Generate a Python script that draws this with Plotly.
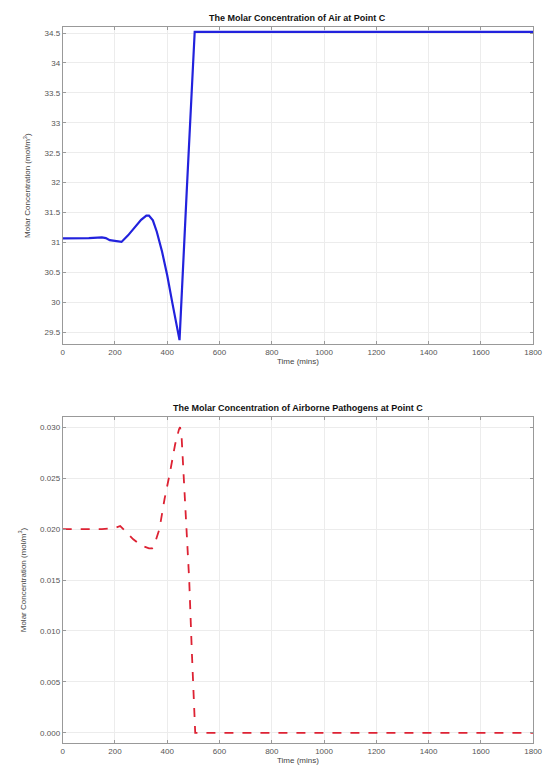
import plotly.graph_objects as go

# Air concentration at point C
t_air = [0, 50, 100, 150, 165, 180, 200, 225, 250, 275, 300, 320, 330, 345, 360, 380, 400, 420, 440, 447, 475, 505, 1800]
air = [31.07, 31.07, 31.075, 31.085, 31.075, 31.04, 31.03, 31.01, 31.12, 31.25, 31.38, 31.45, 31.45, 31.37, 31.18, 30.85, 30.45, 29.98, 29.55, 29.37, 31.9, 34.52, 34.52]

# Airborne pathogens concentration at point C
t_pat = [0, 150, 200, 220, 240, 270, 300, 330, 342, 355, 370, 390, 410, 430, 445, 449, 455, 465, 474, 484, 494, 501, 507, 1800]
pat = [0.0200, 0.0200, 0.0201, 0.0203, 0.0198, 0.0190, 0.0184, 0.0181, 0.0181, 0.0188, 0.0200, 0.0230, 0.0255, 0.0283, 0.0298, 0.0300, 0.0290, 0.0240, 0.0198, 0.0150, 0.0080, 0.0040, 0.0, 0.0]

x_ticks = [0, 200, 400, 600, 800, 1000, 1200, 1400, 1600, 1800]
air_ticks = [29.5, 30, 30.5, 31, 31.5, 32, 32.5, 33, 33.5, 34, 34.5]
pat_ticks = [0.000, 0.005, 0.010, 0.015, 0.020, 0.025, 0.030]

font = "Liberation Sans, Arial, sans-serif"

fig = go.Figure()
fig.add_trace(go.Scatter(x=t_air, y=air, mode="lines", line=dict(color="#2222dd", width=2.2),
                         xaxis="x", yaxis="y", showlegend=False))
fig.add_trace(go.Scatter(x=t_pat, y=pat, mode="lines", line=dict(color="#dd2233", width=1.8, dash="dash"),
                         xaxis="x2", yaxis="y2", showlegend=False))

axis_common = dict(showline=True, linecolor="#999999", linewidth=1, mirror="ticks",
                   ticks="inside", ticklen=3, tickcolor="#999999",
                   showgrid=True, gridcolor="#ececec", gridwidth=1, zeroline=False,
                   tickfont=dict(family=font, size=8, color="#555555"))

fig.update_layout(
    width=558, height=772,
    margin=dict(l=0, r=0, t=0, b=0),
    paper_bgcolor="white", plot_bgcolor="white",
    font=dict(family=font, size=8, color="#333333"),
    xaxis=dict(domain=[0.111, 0.971], range=[0, 1800], tickvals=x_ticks, anchor="y",
               title=dict(text="Time (mins)", font=dict(family=font, size=8, color="#444444"), standoff=2),
               **axis_common),
    yaxis=dict(domain=[0.554, 0.965], range=[29.3, 34.6], tickvals=air_ticks, anchor="x",
               ticktext=[f"{v:g}" for v in air_ticks],
               title=dict(text="Molar Concentration (mol/m<sup>3</sup>)", font=dict(family=font, size=8, color="#444444"), standoff=12),
               **axis_common),
    xaxis2=dict(domain=[0.111, 0.971], range=[0, 1800], tickvals=x_ticks, anchor="y2",
                title=dict(text="Time (mins)", font=dict(family=font, size=8, color="#444444"), standoff=2),
                **axis_common),
    yaxis2=dict(domain=[0.0376, 0.4598], range=[-0.001, 0.031], tickvals=pat_ticks, anchor="x2",
                ticktext=[f"{v:.3f}" for v in pat_ticks],
                title=dict(text="Molar Concentration (mol/m<sup>3</sup>)", font=dict(family=font, size=8, color="#444444"), standoff=12),
                **axis_common),
    annotations=[
        dict(text="<b>The Molar Concentration of Air at Point C</b>", x=0.541, y=0.967, xref="paper", yref="paper",
             xanchor="center", yanchor="bottom", showarrow=False, font=dict(family=font, size=9, color="#111111")),
        dict(text="<b>The Molar Concentration of Airborne Pathogens at Point C</b>", x=0.541, y=0.4618, xref="paper", yref="paper",
             xanchor="center", yanchor="bottom", showarrow=False, font=dict(family=font, size=9, color="#111111")),
    ],
)

fig.write_html("out.html")
